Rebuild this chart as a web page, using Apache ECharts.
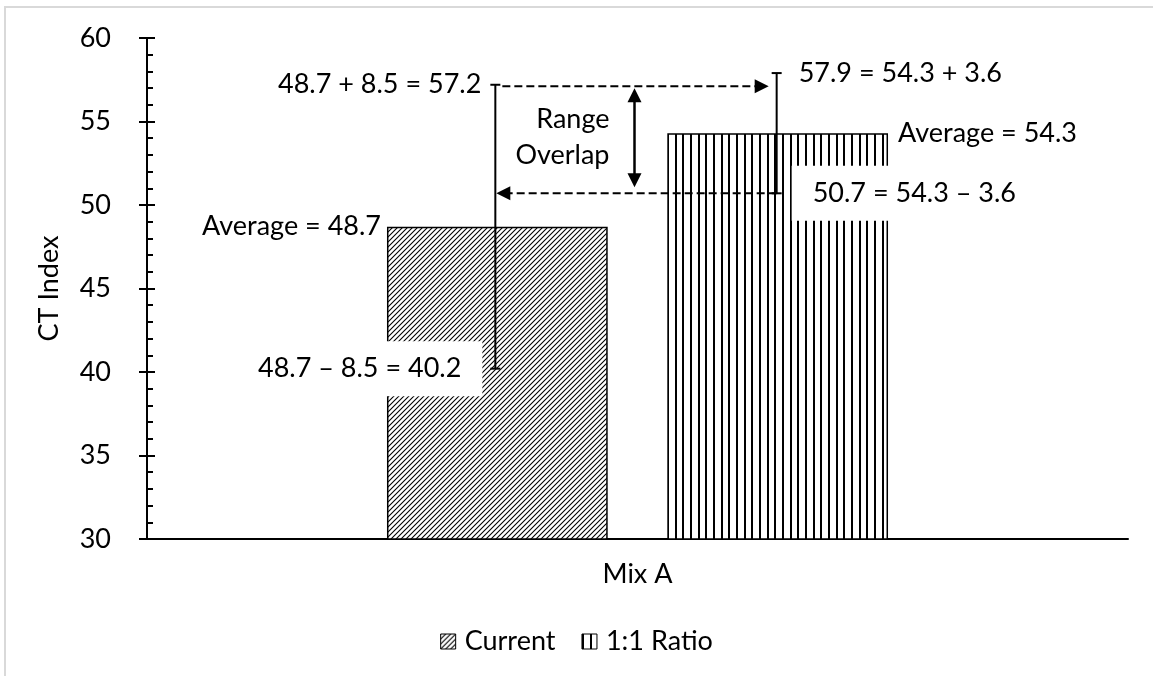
<!DOCTYPE html>
<html><head><meta charset="utf-8">
<script src="https://cdn.jsdelivr.net/npm/echarts@6/dist/echarts.min.js"></script>
<style>html,body{margin:0;padding:0;background:#fff}#c{width:1153px;height:676px}</style>
</head><body><div id="c"></div>
<script>
// ---- data ----
const categories = ['Mix A'];
const seriesNames = ['Current', '1:1 Ratio'];
const averages = [48.7, 54.3];
const deviations = [8.5, 3.6];
const yMin = 30, yMax = 60, yInterval = 5;
const yAxisName = 'CT Index';
const overlapLabel = 'Range\nOverlap';

const FONT = 'Lato';
const FS = 27;
const fontStr = FS + 'px ' + FONT;

function fmt(v) { return v.toFixed(1); }
const highs = averages.map((a, i) => +(a + deviations[i]).toFixed(1));
const lows = averages.map((a, i) => +(a - deviations[i]).toFixed(1));
const labelHigh = [
  fmt(averages[0]) + ' + ' + fmt(deviations[0]) + ' = ' + fmt(highs[0]),
  fmt(highs[1]) + ' = ' + fmt(averages[1]) + ' + ' + fmt(deviations[1])
];
const labelLow = [
  fmt(averages[0]) + ' \u2013 ' + fmt(deviations[0]) + ' = ' + fmt(lows[0]),
  fmt(lows[1]) + ' = ' + fmt(averages[1]) + ' \u2013 ' + fmt(deviations[1])
];
const labelAvg = averages.map(a => 'Average = ' + fmt(a));

// ---- patterns ----
function diagPattern() {
  const c = document.createElement('canvas'); c.width = 5; c.height = 5;
  const g = c.getContext('2d');
  g.fillStyle = '#fff'; g.fillRect(0, 0, 5, 5);
  g.strokeStyle = '#000'; g.lineWidth = 1.1;
  g.beginPath();
  g.moveTo(-1, 6); g.lineTo(6, -1);
  g.moveTo(-1, 1); g.lineTo(1, -1);
  g.moveTo(4, 6); g.lineTo(6, 4);
  g.stroke();
  return c;
}
function vertPattern() {
  const c = document.createElement('canvas'); c.width = 23; c.height = 4;
  const g = c.getContext('2d');
  g.fillStyle = '#fff'; g.fillRect(0, 0, 23, 4);
  g.fillStyle = '#000';
  [0, 8, 15].forEach(x => g.fillRect(x, 0, 2, 4));
  return c;
}
const patterns = [diagPattern(), vertPattern()];

const BAR_W = 0.225, BAR_GAP = 0.27;

function renderAnnot(params, api) {
  const band = api.size([1, 0])[0];
  const c = api.coord([0, yMin])[0];
  const bw = band * BAR_W, gap = bw * BAR_GAP;
  const cx = [c - (bw + gap) / 2, c + (bw + gap) / 2];
  const ex = [cx[0] - 2, cx[1] - 1];
  const Y = v => api.coord([0, v])[1];
  const els = [];
  const txt = (text, x, y, align, bg) => {
    const st = { text: text, x: x, y: y, align: align, verticalAlign: 'middle', fill: '#000', font: fontStr };
    if (bg) { st.backgroundColor = '#fff'; st.padding = [14, 21]; }
    els.push({ type: 'text', style: st });
  };
  // white-boxed labels
  txt(labelLow[0], ex[0] - 13, Y(lows[0]), 'right', true);
  txt(labelLow[1], ex[1] + 15, Y(lows[1]), 'left', true);
  txt(labelHigh[0], ex[0] - 14, Y(highs[0]), 'right');
  txt(labelHigh[1], ex[1] + 22, Y(highs[1]), 'left');
  txt(labelAvg[0], cx[0] - bw / 2 - 6, Y(averages[0]), 'right');
  txt(labelAvg[1], cx[1] + bw / 2 + 10, Y(averages[1]), 'left');

  const L = (x1, y1, x2, y2, w, dash) => els.push({ type: 'line', shape: { x1, y1, x2, y2 }, style: { stroke: '#000', lineWidth: w, lineDash: dash || null } });
  const P = pts => els.push({ type: 'polygon', shape: { points: pts }, style: { fill: '#000' } });

  // error bars
  for (let i = 0; i < 2; i++) {
    const yh = Y(highs[i]), yl = Y(lows[i]);
    L(ex[i], yh, ex[i], yl, 2);
    L(ex[i] - 5, yh, ex[i] + 5, yh, 2);
    L(ex[i] - 5, yl, ex[i] + 5, yl, 2);
  }
  // dashed arrows
  const yTop = Y(highs[0]) + 1.5, yBot = Y(lows[1]);
  const tipR = ex[1] - 8;
  L(ex[0] + 7, yTop, tipR - 13, yTop, 2, [8, 4]);
  P([[tipR, yTop], [tipR - 14, yTop - 7], [tipR - 14, yTop + 7]]);
  const tipL = ex[0] + 1;
  L(ex[1], yBot, tipL + 13, yBot, 2, [8, 4]);
  P([[tipL, yBot], [tipL + 14, yBot - 7], [tipL + 14, yBot + 7]]);
  // double arrow
  const mx = (cx[0] + bw / 2 + cx[1] - bw / 2) / 2 - 3;
  const t = yTop + 2, b = yBot - 6;
  L(mx, t + 12, mx, b - 12, 2.5);
  P([[mx, t], [mx - 7, t + 14], [mx + 7, t + 14]]);
  P([[mx, b], [mx - 7, b - 14], [mx + 7, b - 14]]);
  els.push({ type: 'text', style: { text: overlapLabel, x: mx - 25, y: (t + b) / 2, align: 'right', verticalAlign: 'middle', fill: '#000', font: fontStr, lineHeight: 36 } });
  return { type: 'group', children: els };
}

const chart = echarts.init(document.getElementById('c'), null, { renderer: 'canvas' });
const axisTxt = { color: '#000', fontFamily: FONT, fontSize: FS };
chart.setOption({
  animation: false,
  backgroundColor: '#fff',
  graphic: [{ type: 'rect', shape: { x: 5, y: 7, width: 1300, height: 800 }, style: { fill: 'none', stroke: '#d9d9d9', lineWidth: 2 }, silent: true, z: -10 }],
  grid: { left: 147, right: 25, top: 38, bottom: 137, containLabel: false },
  legend: {
    data: seriesNames, top: 623, left: 'center', itemWidth: 15, itemHeight: 15, itemGap: 26,
    icon: 'rect', textStyle: { color: '#000', fontFamily: FONT, fontSize: FS, padding: [0, 0, 0, 4] },
    itemStyle: { borderColor: '#000', borderWidth: 1 }
  },
  xAxis: {
    type: 'category', data: categories,
    axisLine: { show: true, lineStyle: { color: '#000', width: 2 } },
    axisTick: { show: false },
    axisLabel: Object.assign({ margin: 22 }, axisTxt)
  },
  yAxis: [
    {
      type: 'value', min: yMin, max: yMax, interval: yInterval, position: 'left',
      name: yAxisName, nameLocation: 'middle', nameGap: 84, nameRotate: 90, nameTextStyle: axisTxt,
      axisLine: { show: true, lineStyle: { color: '#000', width: 2 } },
      axisTick: { show: true, inside: false, length: 8, lineStyle: { color: '#000', width: 2 } },
      axisLabel: Object.assign({ margin: 36 }, axisTxt),
      splitLine: { show: false }
    },
    {
      type: 'value', min: yMin, max: yMax, interval: yInterval, position: 'left', offset: 0,
      axisLine: { show: true, lineStyle: { color: '#000', width: 2 } },
      axisTick: { show: true, inside: true, length: 8, lineStyle: { color: '#000', width: 2 } },
      minorTick: { show: true, splitNumber: 5, length: 6, lineStyle: { color: '#000', width: 2 } },
      axisLabel: { show: false },
      splitLine: { show: false }
    }
  ],
  series: [
    {
      type: 'bar', name: seriesNames[0], data: [averages[0]], barWidth: (BAR_W * 100) + '%', barGap: (BAR_GAP * 100) + '%',
      itemStyle: { color: { image: patterns[0], repeat: 'repeat' }, borderColor: '#000', borderWidth: 1.5 }
    },
    {
      type: 'bar', name: seriesNames[1], data: [averages[1]], barWidth: (BAR_W * 100) + '%', barGap: (BAR_GAP * 100) + '%',
      itemStyle: { color: { image: patterns[1], repeat: 'repeat' }, borderColor: '#000', borderWidth: 1.5 }
    },
    {
      type: 'custom', name: 'annotations', coordinateSystem: 'cartesian2d', silent: true, z: 5,
      data: [[0, averages[0]]], renderItem: renderAnnot, clip: false
    }
  ]
});
</script></body></html>
